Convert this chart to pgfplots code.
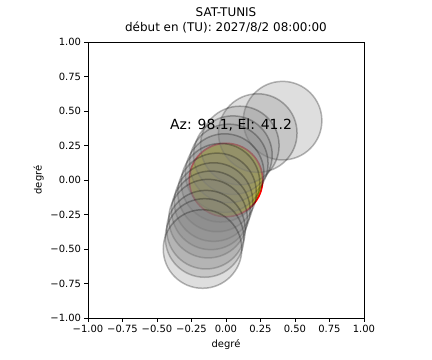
\documentclass[border=0pt]{standalone}
\usepackage{pgfplots}
\pgfplotsset{compat=1.18}
\usepackage{fontspec}
\setmainfont{DejaVu Sans}
\pgfplotstableread{
x y
0.41 0.43
0.23 0.34
0.10 0.25
0.05 0.18
0.02 0.12
-0.01 0.05
-0.04 -0.02
-0.065 -0.09
-0.09 -0.16
-0.11 -0.22
-0.13 -0.28
-0.145 -0.36
-0.155 -0.42
-0.17 -0.50
}\moons
\begin{document}
\begin{tikzpicture}
\path[use as bounding box] (-88bp,-42bp) rectangle (344bp,318bp);
\begin{axis}[
  at={(0,0)}, anchor=south west,
  scale only axis, width=276bp, height=276bp,
  xmin=-1, xmax=1, ymin=-1, ymax=1,
  axis line style={line width=0.8bp},
  xtick={-1,-0.75,-0.5,-0.25,0,0.25,0.5,0.75,1},
  ytick={-1,-0.75,-0.5,-0.25,0,0.25,0.5,0.75,1},
  xticklabels={−1.00,−0.75,−0.50,−0.25,0.00,0.25,0.50,0.75,1.00},
  yticklabels={−1.00,−0.75,−0.50,−0.25,0.00,0.25,0.50,0.75,1.00},
  xtick pos=bottom, ytick pos=left,
  tick align=outside,
  major tick length=3.5bp,
  tick style={line width=0.8bp, black},
  ticklabel style={font=\fontsize{10}{12}\selectfont},
  xlabel={degré}, ylabel={degré},
  label style={font=\fontsize{10}{12}\selectfont},
  clip=false,
]
\addplot[only marks, mark=*, mark size=36.7bp,
  mark options={fill=yellow, draw=red, line width=1.6bp}] coordinates {(0,0)};
\addplot[only marks, mark=*, mark size=39.3bp,
  mark options={fill=gray, fill opacity=0.26, draw=black, draw opacity=0.28, line width=1.5bp}] table[x=x,y=y] {\moons};
\coordinate (T) at (axis cs:-0.43,0.365);
\coordinate (H) at (rel axis cs:0.5,1);
\end{axis}
\node[anchor=base west, font=\fontsize{14}{16}\selectfont] at (T) {Az: 98.1, El: 41.2};
\node[anchor=south, align=center, font=\fontsize{12}{15}\selectfont] at ([yshift=5bp]H) {SAT-TUNIS\\début en (TU): 2027/8/2 08:00:00};
\end{tikzpicture}
\end{document}
